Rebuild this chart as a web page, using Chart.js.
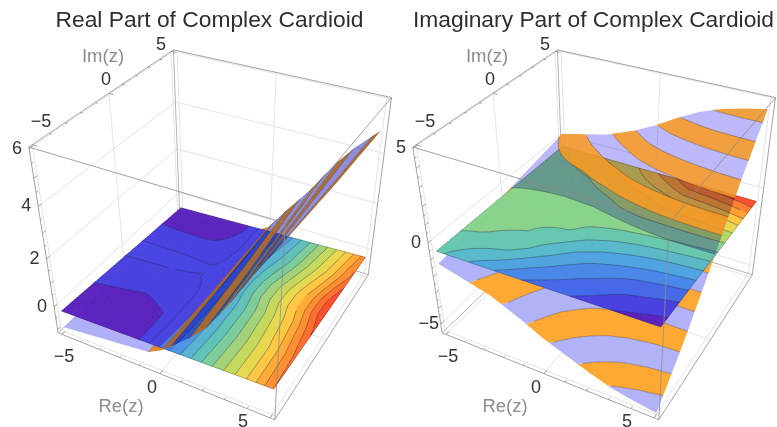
<!DOCTYPE html>
<html>
<head>
<meta charset="utf-8">
<title>Complex Cardioid</title>
<script src="https://cdn.jsdelivr.net/npm/chart.js@4"></script>
<style>
  html, body { margin: 0; background: #fff; overflow: hidden; width: 777px; height: 427px; }
  canvas { position: absolute; top: 0; filter: blur(0.5px); }
  #realChart { left: 0; }
  #imagChart { left: 391px; }
</style>
</head>
<body>
<canvas id="realChart" width="419" height="427"></canvas>
<canvas id="imagChart" width="405" height="427"></canvas>
<script>
// Grid the colour values were read on
const reNodes = [-5, -2.5, -1, 0, 1, 2, 3, 4, 5]
const imNodes = [-5, -3, -1, 0, 1, 2, 3, 5]

// Contour position on the flat sheet, rows by Re, columns by Im
const realColour = [
  [-0.6, -0.15, 0.6, 1.05, 1.2, 0.7, 0.05, -0.7],
  [-0.4, -0.25, 0.35, 1, 1.15, 0.65, -0.05, -0.5],
  [0, 0.02, 0.5, 0.97, 1.05, 0.55, 0.1, 0],
  [2.2, 2, 1.7, 1.6, 1.7, 1.8, 2, 2.2],
  [4.2, 4.1, 4.2, 4.5, 4.5, 4.3, 4, 3.3],
  [6.3, 6.2, 6.4, 6.9, 6.9, 6.4, 5.9, 5.5],
  [8.3, 8.3, 8.7, 9.2, 9.2, 8.7, 8.2, 7.7],
  [10.3, 10.4, 11, 11.6, 11.6, 11, 10.4, 9.9],
  [13, 13.3, 14.2, 15, 15, 14.2, 13.3, 12.5],
]
const imagColour = [
  [5.3, 6.15, 6.35, 6.4, 6.4, 6.45, 6.5, 6.8],
  [3.25, 5.75, 6.25, 6.35, 6.5, 6.6, 6.95, 8],
  [2.05, 4.3, 6.1, 6.35, 6.5, 6.95, 7.5, 8.8],
  [1.55, 3.4, 5.4, 6.3, 6.75, 7.25, 7.85, 9.8],
  [1.12, 2.7, 4.95, 6.05, 6.85, 7.45, 8.2, 10.8],
  [0.65, 2.25, 4.6, 5.9, 6.85, 7.6, 8.65, 12],
  [0, 1.85, 4.35, 5.75, 6.85, 7.75, 8.8, 12.2],
  [-0.3, 1.6, 4.2, 5.6, 6.85, 7.85, 9, 12.6],
  [-0.6, 1.35, 4.1, 5.45, 6.8, 7.9, 9.4, 13],
]

// Heights of the flat sheet at the four corners
const cornerNodes = [-5, 5]
const realFlat = [[-0.22, -0.6], [-0.05, -0.3]]
const imagFlat = [[-0.55, -0.6], [-0.35, -0.75]]

// Heights of the striped sheet
const realSheetIm = [-5, 0, 5]
const realSheet = [
  [-0.95, -0.95, -0.95],
  [-0.9, -0.9, -0.9],
  [-0.72, -0.72, -0.72],
  [-0.25, -0.25, -0.25],
  [0.45, 0.6, 0.85],
  [1.25, 1.5, 1.85],
  [2.5, 2.8, 3.1],
  [3.9, 4, 4.1],
  [5.2, 5, 4.9],
]
const imagSheetIm = [-5, -2.5, 0, 2.5, 5]
// Value the stripes follow
const imagSheet = [
  [-1.3, -1, -0.55, -0.2, 0.2],
  [-2.1, -1.6, -0.9, 0.1, 1.3],
  [-2.95, -2.2, -1.1, 0.5, 2.1],
  [-3.6, -2.6, -1, 0.9, 2.72],
  [-4.1, -2.9, -0.85, 1.2, 3.33],
  [-4.6, -3.1, -0.72, 1.5, 3.8],
  [-5.05, -3.2, -0.65, 1.75, 4.15],
  [-5.3, -3.3, -0.65, 1.95, 4.35],
  [-5.5, -3.3, -0.65, 2.1, 4.5],
]
// Height it is drawn at
const imagHeight = [
  [-1.3, -1, -0.55, -0.2, 0.2],
  [-2.1, -1.6, -0.9, 0, 0.9],
  [-2.95, -2.2, -1.1, 0.3, 1.6],
  [-3.6, -2.6, -1, 0.7, 2.2],
  [-4.1, -2.9, -0.85, 1, 2.9],
  [-4.6, -3.1, -0.72, 1.35, 3.5],
  [-5.05, -3.2, -0.65, 1.65, 3.95],
  [-5.3, -3.3, -0.65, 1.9, 4.25],
  [-5.5, -3.3, -0.65, 2.1, 4.5],
]

// Stripe levels
const realStripes = [-0.55, 0.1, 0.75, 1.4, 2.05, 2.7, 3.35, 4, 4.65]
const imagStripes = [-5, -4.36, -3.71, -3.07, -2.42, -1.78, -1.13, -0.49, 0.16, 0.8, 1.45, 2.09, 2.74, 3.38, 4.03]

// Axis ticks
const axisTicks = [-5, 0, 5]
const realZTicks = [0, 2, 4, 6]
const imagZTicks = [-5, 0, 5]

const realPalette = ["#5A22BE", "#4840DF", "#4844E2", "#4878EE", "#4C96E6", "#56B2D0", "#60C2B6", "#7ACC9A",
  "#A2D278", "#C4D85C", "#E6D84C", "#FFC840", "#FFAA34", "#FF8E2E", "#FF6E2C", "#FF4C2A"]
const imagPalette = ["#5A22BE", "#4840E0", "#4468EA", "#4888EC", "#4EA4E0", "#58BACA", "#66C8AE", "#88D48E",
  "#B4D866", "#E4D850", "#FFC63E", "#FFA030", "#FF7E2C", "#FF4E2A"]

const AXIS_PAD = 5.2
const Z_RANGES = { real: [-1.15, 6.05], imag: [-5.6, 5.05] }

// Box corners on the page: [r, i, k, x, y]
const boxCorners = [
  [0, 0, 1, 28, 147], [0, 0, 0, 59, 336],
  [1, 0, 1, 286, 221], [1, 0, 0, 274, 418],
  [0, 1, 1, 173, 52], [0, 1, 0, 180, 212],
  [1, 1, 1, 392, 97], [1, 1, 0, 368, 278],
]

/**
 * Solves the projective camera from the box corners (least squares).
 * @returns {Array} - 11 camera terms
 */
const solveCamera = () => {
  const rows = []
  boxCorners.forEach(([r, i, k, x, y]) => {
    rows.push([r, i, k, 1, 0, 0, 0, 0, -x * r, -x * i, -x * k, x])
    rows.push([0, 0, 0, 0, r, i, k, 1, -y * r, -y * i, -y * k, y])
  })
  const n = 11
  const m = Array.from({ length: n }, (_, a) =>
    Array.from({ length: n + 1 }, (_, b) => rows.reduce((s, row) => s + row[a] * row[b], 0))
  )
  for (let c = 0; c < n; c++) {
    let best = c
    for (let a = c + 1; a < n; a++) if (Math.abs(m[a][c]) > Math.abs(m[best][c])) best = a
    const tmp = m[c]; m[c] = m[best]; m[best] = tmp
    for (let a = 0; a < n; a++) {
      if (a === c) continue
      const f = m[a][c] / m[c][c]
      for (let b = c; b <= n; b++) m[a][b] -= f * m[c][b]
    }
  }
  return m.map((row, a) => row[n] / row[a])
}
const cam = solveCamera()

const boxToPlot = (r, i, k) => {
  const w = cam[8] * r + cam[9] * i + cam[10] * k + 1
  return {
    x: (cam[0] * r + cam[1] * i + cam[2] * k + cam[3]) / w,
    y: (cam[4] * r + cam[5] * i + cam[6] * k + cam[7]) / w,
  }
}

const toPlot = (re, im, z, zr) => boxToPlot(
  (re + AXIS_PAD) / (2 * AXIS_PAD),
  (im + AXIS_PAD) / (2 * AXIS_PAD),
  (z - zr[0]) / (zr[1] - zr[0])
)

const cellOf = (nodes, v) => {
  let a = 0
  while (a < nodes.length - 2 && v > nodes[a + 1]) a++
  return [a, (v - nodes[a]) / (nodes[a + 1] - nodes[a])]
}

const bilinear = (xs, ys, grid, x, y) => {
  const [a, s] = cellOf(xs, x)
  const [b, t] = cellOf(ys, y)
  return (1 - s) * ((1 - t) * grid[a][b] + t * grid[a][b + 1]) + s * ((1 - t) * grid[a + 1][b] + t * grid[a + 1][b + 1])
}

const BREAK = { x: NaN, y: NaN }

// A dash longer than any path keeps the line solid and turns off the x-sorted fast path
const SOLID = [4000]

const lineSet = (data, color, width, extra) => ({
  data, showLine: true, pointRadius: 0, borderColor: color, borderWidth: width, borderDash: SOLID,
  fill: false, clip: false, tension: 0, ...extra,
})

const fillSet = (data, color, stroke, extra) => ({
  data, showLine: true, pointRadius: 0, backgroundColor: color, borderColor: color, borderDash: SOLID,
  borderWidth: stroke, fill: "shape", clip: false, tension: 0, ...extra,
})

/** Box, grid lines and tick marks, split in what lies behind and in front of the surfaces */
const buildFrame = (zTicks, zr) => {
  const kOf = (z) => (z - zr[0]) / (zr[1] - zr[0])
  const rOf = (v) => (v + AXIS_PAD) / (2 * AXIS_PAD)
  const seg = (out, a, b) => out.push(boxToPlot(...a), boxToPlot(...b), BREAK)
  const grid = []
  axisTicks.forEach((v) => {
    const p = rOf(v)
    seg(grid, [p, 1, 0], [p, 1, 1])
    seg(grid, [0, p, 0], [0, p, 1])
    seg(grid, [p, 0, 0], [p, 1, 0])
    seg(grid, [0, p, 0], [1, p, 0])
  })
  zTicks.forEach((z) => {
    const k = kOf(z)
    seg(grid, [0, 0, k], [0, 1, k])
    seg(grid, [0, 1, k], [1, 1, k])
  })
  const back = []
  seg(back, [0, 1, 0], [0, 1, 1])
  seg(back, [0, 0, 0], [0, 1, 0])
  seg(back, [0, 1, 0], [1, 1, 0])
  const front = []
  seg(front, [0, 0, 1], [1, 0, 1]); seg(front, [1, 0, 1], [1, 1, 1])
  seg(front, [1, 1, 1], [0, 1, 1]); seg(front, [0, 1, 1], [0, 0, 1])
  seg(front, [0, 0, 0], [1, 0, 0]); seg(front, [1, 0, 0], [1, 1, 0])
  seg(front, [1, 1, 0], [1, 1, 1]); seg(front, [0, 0, 0], [0, 0, 1])
  seg(front, [1, 0, 0], [1, 0, 1])
  const ticks = []
  for (let v = -5; v <= 5; v++) {
    const p = rOf(v)
    const len = v % 5 === 0 ? 0.022 : 0.012
    seg(ticks, [p, 0, 0], [p, len, 0])
    seg(ticks, [0, p, 1], [len, p, 1])
  }
  for (let z = Math.ceil(zr[0]); z <= zr[1]; z += 0.5) {
    const len = z % 1 === 0 ? 0.02 : 0.011
    seg(ticks, [0, 0, kOf(z)], [0, len, kOf(z)])
  }
  return {
    behind: [lineSet(grid, "#e4e4e4", 1), lineSet(back, "#b4b4b4", 1)],
    ahead: [lineSet(front, "rgba(140,140,140,0.8)", 1), lineSet(ticks, "#8c8c8c", 0.8)],
  }
}

/** Clips a polygon of [re, im, value] points to value >= limit (sign 1) or value <= limit (sign -1) */
const clipPoly = (poly, limit, sign) => {
  const out = []
  poly.forEach((p, idx) => {
    const q = poly[(idx + 1) % poly.length]
    const pIn = sign * (p[2] - limit) >= 0
    const qIn = sign * (q[2] - limit) >= 0
    if (pIn) out.push(p)
    if (pIn !== qIn) {
      const t = (limit - p[2]) / (q[2] - p[2])
      out.push([p[0] + t * (q[0] - p[0]), p[1] + t * (q[1] - p[1]), limit])
    }
  })
  return out
}

/** Flat sheet: one dataset per colour band plus the contour lines, walked cell by cell */
const buildFlat = (colourGrid, palette, flat, zr) => {
  const N = 56
  const bands = palette.map(() => [])
  const lines = []
  const lift = (re, im) => toPlot(re, im, bilinear(cornerNodes, cornerNodes, flat, re, im), zr)
  for (let a = 0; a < N; a++) {
    for (let b = 0; b < N; b++) {
      const re0 = -5 + 10 * a / N, re1 = -5 + 10 * (a + 1) / N
      const im0 = -5 + 10 * b / N, im1 = -5 + 10 * (b + 1) / N
      const quad = [[re0, im0], [re1, im0], [re1, im1], [re0, im1]].map(
        ([re, im]) => [re, im, bilinear(reNodes, imNodes, colourGrid, re, im)]
      )
      palette.forEach((_, k) => {
        let poly = quad
        if (k > 0) poly = clipPoly(poly, k - 1, 1)
        if (k < palette.length - 1 && poly.length) poly = clipPoly(poly, k, -1)
        if (poly.length > 2) {
          poly.forEach((p) => bands[k].push(lift(p[0], p[1])))
          bands[k].push(BREAK)
        }
      })
      for (let k = 0; k < palette.length - 1; k++) {
        const hits = []
        quad.forEach((p, idx) => {
          const q = quad[(idx + 1) % 4]
          if ((p[2] - k) * (q[2] - k) < 0) {
            const t = (k - p[2]) / (q[2] - p[2])
            hits.push(lift(p[0] + t * (q[0] - p[0]), p[1] + t * (q[1] - p[1])))
          }
        })
        if (hits.length >= 2) lines.push(hits[0], hits[1], BREAK)
      }
    }
  }
  const edge = []
  const corners = [[-5, -5], [5, -5], [5, 5], [-5, 5], [-5, -5]]
  corners.forEach(([re, im]) => edge.push(lift(re, im)))
  return [
    ...bands.map((d, k) => fillSet(d, palette[k], 0.8)),
    lineSet(lines, "rgba(35,35,70,0.5)", 0.8),
    lineSet(edge, "rgba(40,40,60,0.4)", 0.7),
  ]
}

/**
 * Striped sheet for a domain where the stripe value only rises along v.
 * @param {Function} value - (u, v) to stripe value
 * @param {Function} point - (u, v) to plot point
 */
const buildStrips = (value, point, levels, uRange, vRange, cross, look) => {
  const us = []
  for (let n = 0; n <= 60; n++) us.push(uRange[0] + (uRange[1] - uRange[0]) * n / 60)
  const solve = (u, level) => {
    if (level === -Infinity) return vRange[0]
    if (level === Infinity) return vRange[1]
    const steps = 160
    let prev = vRange[0]
    if (value(u, prev) >= level) return prev
    for (let s = 1; s <= steps; s++) {
      const v = vRange[0] + (vRange[1] - vRange[0]) * s / steps
      const h0 = value(u, prev), h1 = value(u, v)
      if (h1 >= level) return prev + (v - prev) * (level - h0) / (h1 - h0)
      prev = v
    }
    return vRange[1]
  }
  const cuts = [-Infinity, ...levels, Infinity]
  const lower = []
  const upper = []
  const addBand = (lo, hi, idx) => {
    if (lo >= hi) return
    const isUpper = lo >= cross
    const a = us.map((u) => [u, solve(u, lo)])
    const b = us.map((u) => [u, solve(u, hi)]).reverse()
    const data = [...a, ...b].map(([u, v]) => point(u, v))
    const colour = look(idx % 2 === 0, isUpper)
    ;(isUpper ? upper : lower).push(fillSet(data, colour.color, 0, { blend: colour.blend }))
  }
  for (let n = 0; n < cuts.length - 1; n++) {
    const lo = cuts[n], hi = cuts[n + 1]
    if (lo < cross && hi > cross) {
      addBand(lo, cross, n)
      addBand(cross, hi, n)
    } else {
      addBand(lo, hi, n)
    }
  }
  levels.forEach((level) => {
    const data = []
    us.forEach((u) => {
      const v = solve(u, level)
      data.push(v > vRange[0] && v < vRange[1] ? point(u, v) : BREAK)
    })
    const set = lineSet(data, "rgba(40,30,40,0.5)", 0.7)
    ;(level >= cross ? upper : lower).push(set)
  })
  return { lower, upper }
}

const realLook = (even, upper) => {
  if (!upper) return even ? { color: "#B0B0F8" } : { color: "#E0862C" }
  return even ? { color: "#8E8EDC", blend: "multiply" } : { color: "rgba(166,102,44,0.95)" }
}
const imagLook = (even, upper) => {
  if (!upper) return even ? { color: "#B2B2F8" } : { color: "#FFA833" }
  return even ? { color: "#BCB8FA", blend: "multiply" } : { color: "rgba(240,146,36,0.88)" }
}

const buildReal = () => {
  const zr = Z_RANGES.real
  const frame = buildFrame(realZTicks, zr)
  const z = (im, re) => bilinear(reNodes, realSheetIm, realSheet, re, im)
  const strips = buildStrips(z, (im, re) => toPlot(re, im, z(im, re), zr),
    realStripes, [-5, 5], [-5, 5], -0.25, realLook)
  return [
    ...frame.behind,
    ...strips.lower,
    ...buildFlat(realColour, realPalette, realFlat, zr),
    ...strips.upper,
    ...frame.ahead,
  ]
}

const buildImag = () => {
  const zr = Z_RANGES.imag
  const frame = buildFrame(imagZTicks, zr)
  const value = (re, im) => bilinear(reNodes, imagSheetIm, imagSheet, re, im)
  const height = (re, im) => bilinear(reNodes, imagSheetIm, imagHeight, re, im)
  const strips = buildStrips(value, (re, im) => toPlot(re, im, height(re, im), zr),
    imagStripes, [-5, 5], [-5, 5], -0.49, imagLook)
  return [
    ...frame.behind,
    ...strips.lower,
    ...buildFlat(imagColour, imagPalette, imagFlat, zr),
    ...strips.upper,
    ...frame.ahead,
  ]
}

// Fixed places of the axis texts on the plot
const axisTexts = [
  ["5", 161, 45, "#333", 18], ["0", 106, 80, "#333", 18], ["\u22125", 41, 122, "#333", 18],
  ["\u22125", 64, 357, "#333", 18], ["0", 152, 388, "#333", 18], ["5", 243, 422, "#333", 18],
  ["Im(z)", 103, 57, "#8c8c8c", 18.5], ["Re(z)", 121, 407, "#8c8c8c", 18.5],
]

const textPlugin = (zTicks, zr) => ({
  id: "axisText",
  afterDatasetDraw(chart, args) {
    const next = chart.data.datasets[args.index - 1]
    chart.ctx.globalCompositeOperation = (next && next.blend) || "source-over"
  },
  afterDatasetsDraw(chart) {
    const { ctx, scales } = chart
    ctx.save()
    ctx.globalCompositeOperation = "source-over"
    ctx.textAlign = "center"
    ctx.textBaseline = "middle"
    const put = (text, x, y, color, size) => {
      ctx.font = size + "px 'Liberation Sans', Arial, sans-serif"
      ctx.fillStyle = color
      ctx.fillText(text, scales.x.getPixelForValue(x), scales.y.getPixelForValue(y))
    }
    axisTexts.forEach(([text, x, y, color, size]) => put(text, x, y, color, size))
    zTicks.forEach((z) => {
      const p = toPlot(-AXIS_PAD, -AXIS_PAD, z, zr)
      put(z < 0 ? "\u2212" + Math.abs(z) : String(z), p.x - 12, p.y, "#333", 18)
    })
    ctx.restore()
  },
})

const TITLE_HEIGHT = 40

const drawPanel = (id, title, datasets, xRange, zTicks, zr) => {
  // Chart.js draws the first dataset on top, so the painter's order is reversed
  return new Chart(document.getElementById(id), {
    type: "scatter",
    data: { datasets: datasets.slice().reverse() },
    options: {
      responsive: false,
      animation: false,
      events: [],
      layout: { autoPadding: false, padding: 0 },
      scales: {
        x: { type: "linear", display: false, min: xRange[0], max: xRange[1] },
        y: { type: "linear", display: false, min: TITLE_HEIGHT, max: 427, reverse: true },
      },
      plugins: {
        legend: { display: false },
        tooltip: { enabled: false },
        title: {
          display: true,
          text: title,
          color: "#2e2e2e",
          font: { family: "'Liberation Sans', Arial, sans-serif", size: 22.8, weight: "normal", lineHeight: 1.2 },
          padding: { top: 7.3, bottom: 5.3 },
        },
      },
    },
    plugins: [textPlugin(zTicks, zr)],
  })
}

drawPanel("realChart", "Real Part of Complex Cardioid", buildReal(), [0, 419], realZTicks, Z_RANGES.real)
drawPanel("imagChart", "Imaginary Part of Complex Cardioid", buildImag(), [7, 412], imagZTicks, Z_RANGES.imag)
</script>
</body>
</html>
